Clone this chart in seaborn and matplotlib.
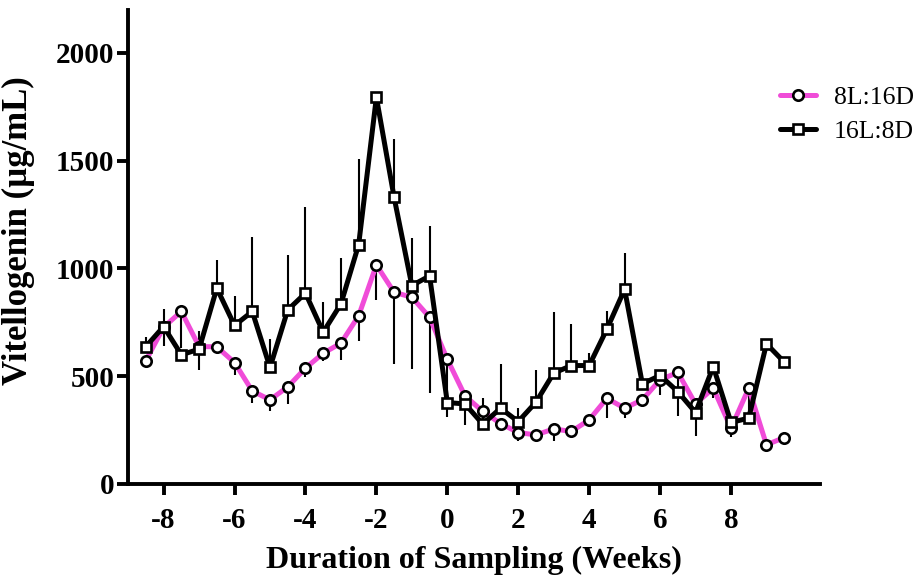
import numpy as np
import pandas as pd
import matplotlib
matplotlib.use("Agg")
import matplotlib.pyplot as plt
import seaborn as sns
from matplotlib.lines import Line2D

weeks = [-8.5, -8, -7.5, -7, -6.5, -6, -5.5, -5, -4.5, -4, -3.5, -3, -2.5, -2, -1.5, -1, -0.5,
         0, 0.5, 1, 1.5, 2, 2.5, 3, 3.5, 4, 4.5, 5, 5.5, 6, 6.5, 7, 7.5, 8, 8.5, 9, 9.5]

short_day = [572, 727, 800, 637, 636, 563, 431, 390, 450, 537, 606, 653, 780, 1016, 889, 866, 773,
             578, 408, 336, 280, 238, 227, 255, 243, 297, 397, 351, 390, 483, 517, 371, 444, 258, 444, 181, 215]
short_day_err = [0, 87, 170, 111, 0, 57, 57, 54, 80, 42, 34, 80, 119, 162, 333, 334, 350,
                 266, 135, 40, 0, 39, 0, 56, 0, 0, 93, 46, 0, 70, 204, 148, 46, 42, 140, 0, 0]

long_day = [637, 730, 599, 625, 908, 735, 800, 540, 807, 885, 704, 835, 1110, 1794, 1329, 920, 965,
            377, 371, 277, 351, 289, 379, 514, 549, 549, 718, 903, 464, 503, 428, 331, 544, 285, 305, 650, 565]
long_day_err = [43, 82, 0, 82, 131, 135, 346, 133, 256, 400, 142, 212, 396, 0, 271, 221, 232,
                0, 0, 121, 206, 62, 150, 282, 192, 57, 82, 170, 0, 0, 0, 0, 0, 0, 0, 0, 0]

labels = ["8L:16D", "16L:8D"]
x_ticks = [-8, -6, -4, -2, 0, 2, 4, 6, 8]
y_ticks = [0, 500, 1000, 1500, 2000]

sns.set_style("ticks")
plt.rcParams['font.family'] = ['Liberation Serif', 'DejaVu Serif']
plt.rcParams['axes.unicode_minus'] = False
for k in ['text.color', 'axes.labelcolor', 'xtick.color', 'ytick.color', 'axes.edgecolor']:
    plt.rcParams[k] = 'black'

pink = '#F04CD8'
LW = 3.6
MS = 7.5
MEW = 1.9

df = pd.DataFrame({
    "week": weeks * 2,
    "vtg": short_day + long_day,
    "group": [labels[0]] * len(weeks) + [labels[1]] * len(weeks),
})

fig = plt.figure(figsize=(9.22, 5.76), dpi=100)
ax = fig.add_axes([0.139, 0.160, 0.750, 0.823])

# error bars (pink downward, black upward)
w = np.array(weeks)
sd = np.array(short_day); sde = np.array(short_day_err)
ld = np.array(long_day); lde = np.array(long_day_err)
ax.vlines(w, sd - sde, sd, color='black', lw=1.5, zorder=1)
ax.vlines(w, ld, ld + lde, color='black', lw=1.5, zorder=1)

sns.lineplot(data=df, x="week", y="vtg", hue="group", style="group",
             palette=[pink, 'black'], markers=['o', 's'], dashes=False,
             linewidth=LW, markersize=MS, markerfacecolor='white',
             markeredgecolor='black', markeredgewidth=MEW, ax=ax, legend=False, zorder=3)

ax.set_xlim(-9, 10.5)
ax.set_ylim(0, 2200)
ax.set_xticks(x_ticks)
ax.set_yticks(y_ticks)
for s in ['top', 'right']:
    ax.spines[s].set_visible(False)
for s in ['left', 'bottom']:
    ax.spines[s].set_linewidth(2.8)
    ax.spines[s].set_color('black')
ax.tick_params(axis='both', width=2.8, length=8, labelsize=21, direction='out', pad=2, colors='black')
ax.tick_params(axis='x', pad=9)
for lab in ax.get_xticklabels() + ax.get_yticklabels():
    lab.set_fontweight('bold')

ax.set_xlabel("Duration of Sampling (Weeks)", fontsize=23, fontweight='bold', labelpad=8)
ax.set_ylabel("Vitellogenin (µg/mL)", fontsize=25, fontweight='bold', labelpad=6)
ax.yaxis.set_label_coords(-0.135, 0.535)

handles = [
    Line2D([], [], color=pink, lw=LW, marker='o', markersize=MS, markerfacecolor='white',
           markeredgecolor='black', markeredgewidth=MEW),
    Line2D([], [], color='black', lw=LW, marker='s', markersize=MS, markerfacecolor='white',
           markeredgecolor='black', markeredgewidth=MEW),
]
fig.legend(handles, labels, loc='upper left', bbox_to_anchor=(0.846, 0.850), frameon=False,
           fontsize=18.5, handlelength=1.4, handletextpad=0.7, labelspacing=0.4, borderpad=0,
           borderaxespad=0)

fig.savefig("out.png", dpi=100)
